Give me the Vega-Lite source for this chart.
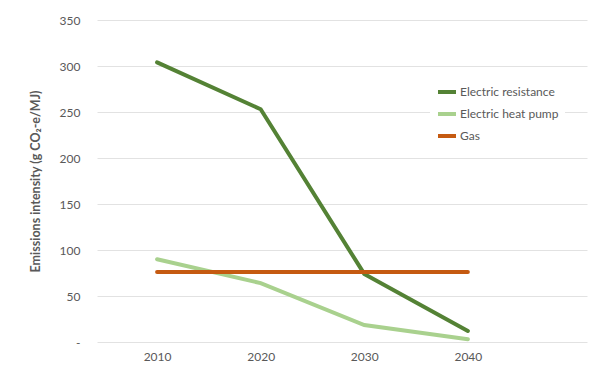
{
  "$schema": "https://vega.github.io/schema/vega-lite/v6.json",
  "width": 490,
  "height": 322,
  "autosize": {"type": "none"},
  "padding": {"left": 97, "top": 20, "right": 13, "bottom": 45},
  "background": "white",
  "config": {
    "font": "Lato",
    "view": {"stroke": null}
  },
  "data": {
    "values": [
      {"year": 2010, "series": "Electric resistance", "value": 304},
      {"year": 2020, "series": "Electric resistance", "value": 253},
      {"year": 2030, "series": "Electric resistance", "value": 74},
      {"year": 2040, "series": "Electric resistance", "value": 12},
      {"year": 2010, "series": "Electric heat pump", "value": 90},
      {"year": 2020, "series": "Electric heat pump", "value": 64},
      {"year": 2030, "series": "Electric heat pump", "value": 18.5},
      {"year": 2040, "series": "Electric heat pump", "value": 3},
      {"year": 2010, "series": "Gas", "value": 76},
      {"year": 2020, "series": "Gas", "value": 76},
      {"year": 2030, "series": "Gas", "value": 76},
      {"year": 2040, "series": "Gas", "value": 76}
    ]
  },
  "mark": {"type": "line", "strokeWidth": 4, "strokeCap": "round"},
  "encoding": {
    "x": {
      "field": "year",
      "type": "quantitative",
      "scale": {"domain": [2004.2, 2051.5], "nice": false, "zero": false},
      "axis": {
        "values": [2010, 2020, 2030, 2040],
        "format": "d",
        "title": null,
        "grid": false,
        "ticks": false,
        "domain": false,
        "labelColor": "#595959",
        "labelFontSize": 12,
        "labelPadding": 9
      }
    },
    "y": {
      "field": "value",
      "type": "quantitative",
      "scale": {"domain": [0, 350], "nice": false},
      "axis": {
        "values": [0, 50, 100, 150, 200, 250, 300, 350],
        "labelExpr": "datum.value == 0 ? '-' : datum.label",
        "title": "Emissions intensity (g CO₂-e/MJ)",
        "titleFontSize": 12.5,
        "titleFontWeight": "bold",
        "titleColor": "#595959",
        "titlePadding": 17,
        "grid": true,
        "gridColor": "#e2e2e2",
        "gridWidth": 1,
        "ticks": false,
        "domain": false,
        "labelColor": "#595959",
        "labelFontSize": 12,
        "labelPadding": 17
      }
    },
    "color": {
      "field": "series",
      "type": "nominal",
      "scale": {
        "domain": ["Electric resistance", "Electric heat pump", "Gas"],
        "range": ["#548235", "#A9D18E", "#C55A11"]
      },
      "legend": {
        "title": null,
        "orient": "none",
        "legendX": 333,
        "legendY": 55,
        "symbolType": "stroke",
        "symbolStrokeWidth": 4,
        "symbolSize": 324,
        "labelFontSize": 12,
        "labelColor": "#595959",
        "rowPadding": 3,
        "labelOffset": 2,
        "fillColor": "white",
        "padding": 6
      }
    }
  }
}
